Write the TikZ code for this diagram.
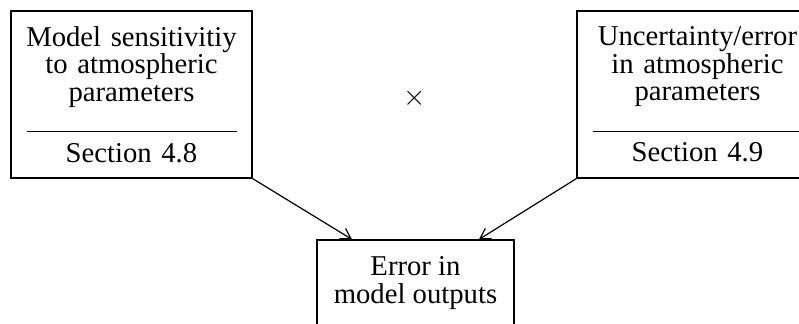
\documentclass[tikz,border=0pt]{standalone}
\usepackage{fontspec}
\setmainfont{Liberation Serif}
\usetikzlibrary{arrows.meta}
\newcommand\seprule{\rule{105pt}{.6pt}}
\tikzset{
  box/.style={draw, line width=.6pt, align=center, inner sep=0pt,
              font=\fontsize{14.35}{13.75}\selectfont},
  link/.style={line width=.6pt, -{Straight Barb[length=5pt,width=6pt]}}
}
\begin{document}
\begin{tikzpicture}[x=.5pt,y=-.5pt]
  \useasboundingbox (0,0) rectangle (799,324);
  \clip (0,0) rectangle (799,324);
  % the two factors
  \node[box, minimum width=120.5pt, minimum height=83.5pt, text width=112pt]
    (sens) at (131.5,94.5) {Model sensitivitiy\\to atmospheric\\parameters\\[1.75pt]\seprule\\[1.25pt]Section 4.8};
  \node[box, minimum width=120.5pt, minimum height=83.5pt, text width=112pt]
    (unc) at (697.5,94.5) {Uncertainty/error\\in atmospheric\\parameters\\[1.75pt]\seprule\\[1.25pt]Section 4.9};
  \node[font=\fontsize{14.35}{13.75}\selectfont] (times) at (415,98) {$\times$};
  % their product
  \node[box, minimum width=98.5pt, minimum height=43.3pt]
    (err) at (415.5,283.3) {Error in\\model outputs};
  \draw[link] (sens.south east) -- ([xshift=-31.75pt]err.north);
  \draw[link] (unc.south west) -- ([xshift=31.75pt]err.north);
\end{tikzpicture}
\end{document}
